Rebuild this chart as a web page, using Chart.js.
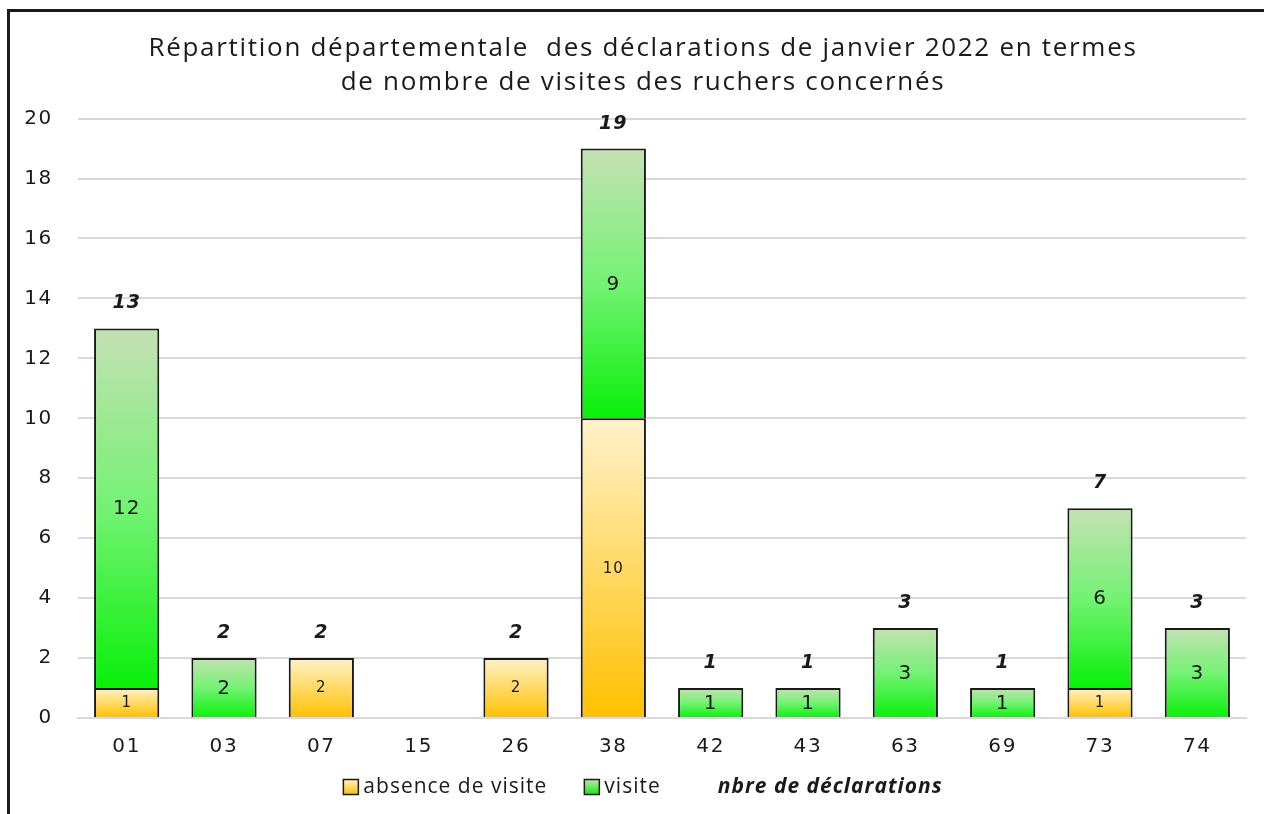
<!DOCTYPE html>
<html lang="fr">
<head>
    <meta charset="UTF-8">
    <title>Répartition départementale des déclarations - janvier 2022</title>
    <script src="https://cdn.jsdelivr.net/npm/chart.js"></script>
    <style>
        body {
            margin: 0;
            background: #ffffff;
            overflow: hidden;
        }

        .frame {
            position: absolute;
            left: 7px;
            top: 9px;
            width: 1400px;
            height: 900px;
            border-left: 3px solid #1a1a1a;
            border-top: 3px solid #1a1a1a;
        }

        .chart-box {
            position: absolute;
            left: 0;
            top: 0;
            width: 1264px;
            height: 814px;
        }
    </style>
</head>
<body>

    <div class="frame"></div>
    <div class="chart-box">
        <canvas id="graphDeclarations" width="1264" height="814"></canvas>
    </div>

    <script>
        // Départements
        const departements = ['01', '03', '07', '15', '26', '38', '42', '43', '63', '69', '73', '74'];
        // Déclarations sans visite du rucher
        const absenceVisite = [1, 0, 2, 0, 2, 10, 0, 0, 0, 0, 1, 0];
        // Déclarations avec visite du rucher
        const visite = [12, 2, 0, 0, 0, 9, 1, 1, 3, 1, 6, 3];
        // Nombre total de déclarations (étiquettes au-dessus des barres)
        const nbreDeclarations = [13, 2, 2, null, 2, 19, 1, 1, 3, 1, 7, 3];
        // Graduations de l'axe vertical
        const yMin = 0, yMax = 20, yStep = 2;

        const ORANGE = ['#fff2cc', '#ffd966', '#ffc000'];
        const VERT = ['#c6e0b4', '#74f274', '#0af00a'];

        // dégradé vertical pour chaque segment de barre
        function degrade(context, couleurs) {
            const chart = context.chart;
            if (!chart.chartArea || context.type !== 'data') return couleurs[2];
            const y = chart.scales.y;
            const i = context.dataIndex;
            let debut = 0, fin = 0;
            if (context.datasetIndex === 0) {
                fin = absenceVisite[i];
            } else {
                debut = absenceVisite[i];
                fin = absenceVisite[i] + visite[i];
            }
            const yTop = y.getPixelForValue(fin);
            const yBas = y.getPixelForValue(debut);
            if (yBas - yTop < 1) return couleurs[2];
            const g = chart.ctx.createLinearGradient(0, yTop, 0, yBas);
            g.addColorStop(0, couleurs[0]);
            g.addColorStop(0.5, couleurs[1]);
            g.addColorStop(1, couleurs[2]);
            return g;
        }

        // texte un peu étiré comme sur l'original (titre + graduations)
        const espacement = {
            id: 'espacement',
            // l'axe y reprend toute la marge gauche pour que ses libellés ne soient pas coupés
            afterLayout(chart) { chart.scales.y.left = 0; },
            beforeDraw(chart) { chart.ctx.letterSpacing = '1.7px'; },
            beforeDatasetsDraw(chart) { chart.ctx.letterSpacing = '0px'; }
        };

        // étiquettes : valeurs dans les segments + totaux en gras italique
        const etiquettes = {
            id: 'etiquettes',
            afterDatasetsDraw(chart) {
                const ctx = chart.ctx;
                ctx.save();
                ctx.letterSpacing = '1px';
                ctx.textAlign = 'center';
                ctx.textBaseline = 'middle';
                ctx.fillStyle = '#1a1a1a';

                chart.getDatasetMeta(0).data.forEach((bar, i) => {
                    if (!absenceVisite[i]) return;
                    ctx.font = '15px "DejaVu Sans"';
                    ctx.fillText(absenceVisite[i], bar.x, (bar.y + bar.base) / 2 + 1);
                });
                chart.getDatasetMeta(1).data.forEach((bar, i) => {
                    if (!visite[i]) return;
                    ctx.font = '20px "DejaVu Sans"';
                    ctx.fillText(visite[i], bar.x, (bar.y + bar.base) / 2 + 1);
                });
                chart.getDatasetMeta(2).data.forEach((pt, i) => {
                    if (nbreDeclarations[i] == null) return;
                    ctx.font = 'italic bold 19px "DejaVu Sans"';
                    ctx.fillText(nbreDeclarations[i], pt.x, pt.y - 25);
                });
                ctx.restore();
            }
        };

        // légende dessinée à la main (3e entrée sans symbole visible, en gras italique)
        const legende = {
            id: 'legende',
            afterDraw(chart) {
                const ctx = chart.ctx;
                const items = [
                    { texte: chart.data.datasets[0].label, couleurs: ORANGE, font: '21px "Open Sans"' },
                    { texte: chart.data.datasets[1].label, couleurs: VERT, font: '21px "Open Sans"' },
                    { texte: chart.data.datasets[2].label, couleurs: null, font: 'italic bold 21px "Open Sans"' }
                ];
                const boite = 15, espace = 5, ecart = 37;
                ctx.save();
                ctx.letterSpacing = '1px';
                let total = 0;
                items.forEach(it => {
                    ctx.font = it.font;
                    it.w = ctx.measureText(it.texte).width;
                    total += boite + espace + it.w;
                });
                total += ecart * (items.length - 1);
                let x = chart.width / 2 + 11 - total / 2;
                const y = 787;
                ctx.textBaseline = 'middle';
                items.forEach(it => {
                    if (it.couleurs) {
                        const g = ctx.createLinearGradient(0, y - boite / 2, 0, y + boite / 2);
                        g.addColorStop(0, it.couleurs[0]);
                        g.addColorStop(1, it.couleurs[2]);
                        ctx.fillStyle = g;
                        ctx.fillRect(x, y - boite / 2, boite, boite);
                        ctx.strokeStyle = '#1a1a1a';
                        ctx.lineWidth = 1.5;
                        ctx.strokeRect(x, y - boite / 2, boite, boite);
                    }
                    x += boite + espace;
                    ctx.fillStyle = '#1a1a1a';
                    ctx.font = it.font;
                    ctx.fillText(it.texte, x, y);
                    x += it.w + ecart;
                });
                ctx.restore();
            }
        };

        const ctx1 = document.getElementById('graphDeclarations').getContext('2d');
        const graphDeclarations = new Chart(ctx1, {
            type: 'bar',
            data: {
                labels: departements,
                datasets: [{
                    label: 'absence de visite',
                    data: absenceVisite,
                    backgroundColor: c => degrade(c, ORANGE),
                    borderColor: '#1a1a1a',
                    borderWidth: 2,
                    stack: 'decl',
                    categoryPercentage: 0.67,
                    barPercentage: 1
                }, {
                    label: 'visite',
                    data: visite,
                    backgroundColor: c => degrade(c, VERT),
                    borderColor: '#1a1a1a',
                    borderWidth: 2,
                    stack: 'decl',
                    categoryPercentage: 0.67,
                    barPercentage: 1
                }, {
                    type: 'line',
                    label: 'nbre de déclarations',
                    data: nbreDeclarations,
                    showLine: false,
                    pointRadius: 0,
                    stack: 'totaux'
                }]
            },
            options: {
                responsive: false,
                animation: false,
                layout: {
                    padding: { left: 40, right: 18, top: 0, bottom: 38 }
                },
                plugins: {
                    legend: { display: false },
                    tooltip: { enabled: false },
                    title: {
                        display: true,
                        text: ['Répartition départementale  des déclarations de janvier 2022 en termes',
                               'de nombre de visites des ruchers concernés'],
                        color: '#1a1a1a',
                        font: { family: 'Open Sans', size: 26, weight: 'normal', lineHeight: 1.3 },
                        padding: { top: 32, bottom: 19 }
                    }
                },
                scales: {
                    x: {
                        stacked: true,
                        grid: { display: false, drawTicks: false },
                        border: { display: true, color: '#d9d9d9', width: 2 },
                        ticks: {
                            color: '#1a1a1a',
                            font: { family: 'DejaVu Sans', size: 20 },
                            padding: 17
                        }
                    },
                    y: {
                        stacked: true,
                        min: yMin,
                        max: yMax,
                        grid: { color: '#d9d9d9', lineWidth: 2, drawTicks: false },
                        border: { display: false },
                        ticks: {
                            stepSize: yStep,
                            color: '#1a1a1a',
                            font: { family: 'DejaVu Sans', size: 20 },
                            padding: 25
                        },
                        afterFit: scale => { scale.width = 38; }
                    }
                }
            },
            plugins: [espacement, etiquettes, legende]
        });
    </script>

</body>
</html>
